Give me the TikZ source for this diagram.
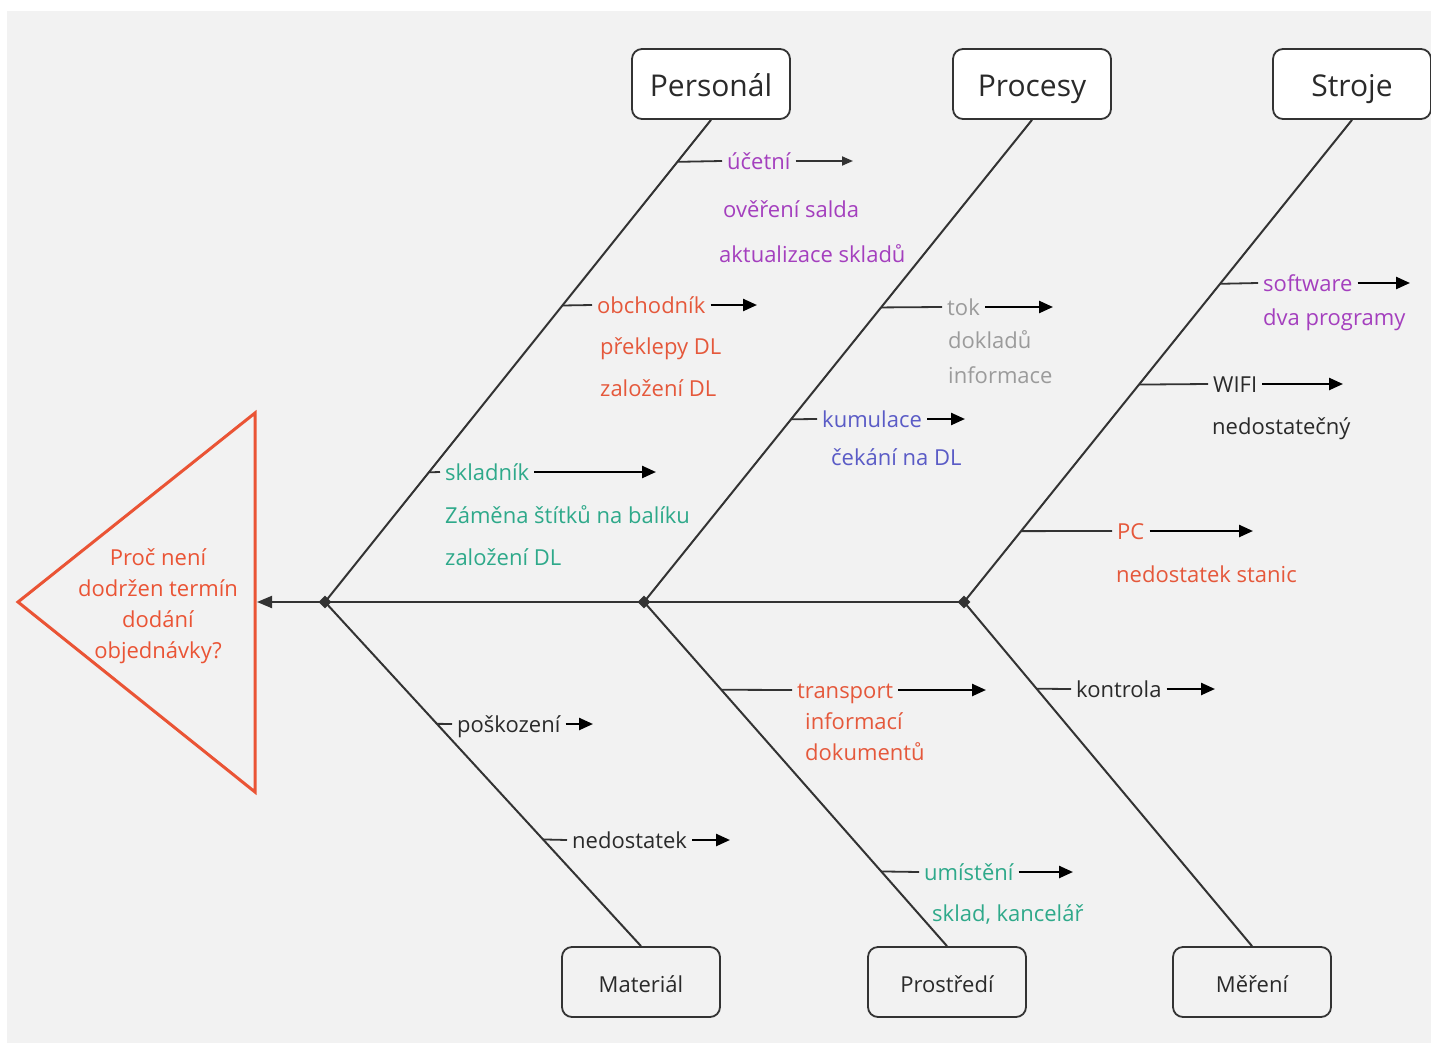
\documentclass[tikz,border=0pt]{standalone}
\usepackage{fontspec}
\setmainfont{Open Sans}
\usetikzlibrary{shapes.geometric,arrows.meta,calc}
\definecolor{bg}{HTML}{F2F2F2}
\definecolor{edge}{HTML}{333333}
\definecolor{ink}{HTML}{2A2A2A}
\definecolor{effect}{HTML}{EA5435}
\definecolor{cpurple}{HTML}{A43FBE}
\definecolor{corange}{HTML}{E5583B}
\definecolor{cteal}{HTML}{2EA98A}
\definecolor{cgray}{HTML}{9B9B9B}
\definecolor{cblue}{HTML}{5A5BC6}
\begin{document}
\begin{tikzpicture}[x=1pt,y=-1pt,
  catbig/.style={draw=edge,line width=1.8pt,fill=white,rounded corners=10pt,
    minimum width=158pt,minimum height=70pt,inner sep=0pt,
    text height=33pt,text depth=7pt,
    font=\fontsize{30}{36}\selectfont,text=ink},
  catsmall/.style={catbig,fill=bg,text height=25pt,text depth=5pt,
    font=\fontsize{22}{26}\selectfont},
  bone/.style={line width=2pt,draw=edge},
  twig/.style={line width=1.8pt,draw=edge},
  cause/.style={anchor=west,inner xsep=5pt,inner ysep=0pt,
    text height=22pt,text depth=5pt,font=\fontsize{22}{26}\selectfont},
  tip/.style={line width=2.4pt,draw=black,-{Triangle[length=14pt,width=12pt]}},
  thintip/.style={line width=1.8pt,draw=edge,-{Triangle[length=11pt,width=9pt]}},
  junction/.style={diamond,fill=edge,inner sep=0pt,minimum size=13pt},
]
% canvas
\useasboundingbox (0,0) rectangle (1431,1043);
\fill[white] (0,0) rectangle (1431,1043);
\fill[bg] (7,11) rectangle (1431,1043);

% category boxes
\node[catbig] (pers) at (711,84) {Personál};
\node[catbig] (proc) at (1032,84) {Procesy};
\node[catbig] (stroj) at (1352,84) {Stroje};
\node[catsmall] (mat) at (641,982) {Materiál};
\node[catsmall] (pros) at (947,982) {Prostředí};
\node[catsmall] (mer) at (1252,982) {Měření};

% effect head
\coordinate (ta) at (255,413);
\coordinate (tb) at (255,792);
\coordinate (tc) at (18,602);
\draw[effect,line width=3pt,line join=miter] (ta) -- (tb) -- (tc) -- cycle;
\node[text=effect,align=center,font=\fontsize{22}{31}\selectfont] (effq) at (158,606)
  {Proč není\\dodržen termín\\dodání\\objednávky?};

% spine and bones
\coordinate (j1) at (325,602);
\coordinate (j2) at (644,602);
\coordinate (j3) at (964,602);
\coordinate (hd) at (257,602);
\draw[bone,-{Triangle[length=15pt,width=12pt]}] (j3) -- (hd);
\draw[bone] (j1) -- (pers.south);
\draw[bone] (j2) -- (proc.south);
\draw[bone] (j3) -- (stroj.south);
\draw[bone] (j1) -- (mat.north);
\draw[bone] (j2) -- (pros.north);
\draw[bone] (j3) -- (mer.north);
\node[junction] (d1) at (j1) {};
\node[junction] (d2) at (j2) {};
\node[junction] (d3) at (j3) {};

% Personál
\coordinate (pa) at ($(j1)!0.913!(pers.south)$);
\node[cause,text=cpurple] (ucet) at (722,161) {účetní};
\coordinate (pae) at (853,161);
\draw[twig] (pa) -- (ucet.west);
\draw[thintip] (ucet.east) -- (pae);
\node[cause,text=cpurple] (ucet1) at (718,209) {ověření salda};
\node[cause,text=cpurple] (ucet2) at (714,254) {aktualizace skladů};

\coordinate (pb) at ($(j1)!0.615!(pers.south)$);
\node[cause,text=corange] (obch) at (592,305) {obchodník};
\coordinate (pbe) at (757,305);
\draw[twig] (pb) -- (obch.west);
\draw[tip] (obch.east) -- (pbe);
\node[cause,text=corange] (obch1) at (595,346) {překlepy DL};
\node[cause,text=corange] (obch2) at (595,388) {založení DL};

\coordinate (pc) at ($(j1)!0.269!(pers.south)$);
\node[cause,text=cteal] (sklad) at (440,472) {skladník};
\coordinate (pce) at (656,472);
\draw[twig] (pc) -- (sklad.west);
\draw[tip] (sklad.east) -- (pce);
\node[cause,text=cteal] (sklad1) at (440,515) {Záměna štítků na balíku};
\node[cause,text=cteal] (sklad2) at (440,557) {založení DL};

% Procesy
\coordinate (ra) at ($(j2)!0.611!(proc.south)$);
\node[cause,text=cgray] (tok) at (942,307) {tok};
\coordinate (rae) at (1053,307);
\draw[twig] (ra) -- (tok.west);
\draw[tip] (tok.east) -- (rae);
\node[cause,text=cgray] (tok1) at (943,340) {dokladů};
\node[cause,text=cgray] (tok2) at (943,375) {informace};

\coordinate (rb) at ($(j2)!0.379!(proc.south)$);
\node[cause,text=cblue] (kum) at (817,419) {kumulace};
\coordinate (rbe) at (965,419);
\draw[twig] (rb) -- (kum.west);
\draw[tip] (kum.east) -- (rbe);
\node[cause,text=cblue] (kum1) at (826,457) {čekání na DL};

% Stroje
\coordinate (sa) at ($(j3)!0.660!(stroj.south)$);
\node[cause,text=cpurple] (soft) at (1258,283) {software};
\coordinate (sae) at (1410,283);
\draw[twig] (sa) -- (soft.west);
\draw[tip] (soft.east) -- (sae);
\node[cause,text=cpurple] (soft1) at (1258,317) {dva programy};

\coordinate (sb) at ($(j3)!0.451!(stroj.south)$);
\node[cause,text=ink] (wifi) at (1208,384) {WIFI};
\coordinate (sbe) at (1343,384);
\draw[twig] (sb) -- (wifi.west);
\draw[tip] (wifi.east) -- (sbe);
\node[cause,text=ink] (wifi1) at (1207,426) {nedostatečný};

\coordinate (sc) at ($(j3)!0.147!(stroj.south)$);
\node[cause,text=corange] (pcn) at (1112,531) {PC};
\coordinate (sce) at (1253,531);
\draw[twig] (sc) -- (pcn.west);
\draw[tip] (pcn.east) -- (sce);
\node[cause,text=corange] (pcn1) at (1111,574) {nedostatek stanic};

% Materiál
\coordinate (ma) at ($(j1)!0.354!(mat.north)$);
\node[cause,text=ink] (posk) at (452,724) {poškození};
\coordinate (mae) at (593,724);
\draw[twig] (ma) -- (posk.west);
\draw[tip] (posk.east) -- (mae);

\coordinate (mb) at ($(j1)!0.690!(mat.north)$);
\node[cause,text=ink] (nedo) at (567,840) {nedostatek};
\coordinate (mbe) at (730,840);
\draw[twig] (mb) -- (nedo.west);
\draw[tip] (nedo.east) -- (mbe);

% Prostředí
\coordinate (ea) at ($(j2)!0.255!(pros.north)$);
\node[cause,text=corange] (trans) at (792,690) {transport};
\coordinate (eae) at (986,690);
\draw[twig] (ea) -- (trans.west);
\draw[tip] (trans.east) -- (eae);
\node[cause,text=corange] (trans1) at (800,721) {informací};
\node[cause,text=corange] (trans2) at (800,752) {dokumentů};

\coordinate (eb) at ($(j2)!0.783!(pros.north)$);
\node[cause,text=cteal] (umis) at (919,872) {umístění};
\coordinate (ebe) at (1073,872);
\draw[twig] (eb) -- (umis.west);
\draw[tip] (umis.east) -- (ebe);
\node[cause,text=cteal] (umis1) at (927,913) {sklad, kancelář};

% Měření
\coordinate (ka) at ($(j3)!0.252!(mer.north)$);
\node[cause,text=ink] (kontr) at (1071,689) {kontrola};
\coordinate (kae) at (1215,689);
\draw[twig] (ka) -- (kontr.west);
\draw[tip] (kontr.east) -- (kae);
\end{tikzpicture}
\end{document}
